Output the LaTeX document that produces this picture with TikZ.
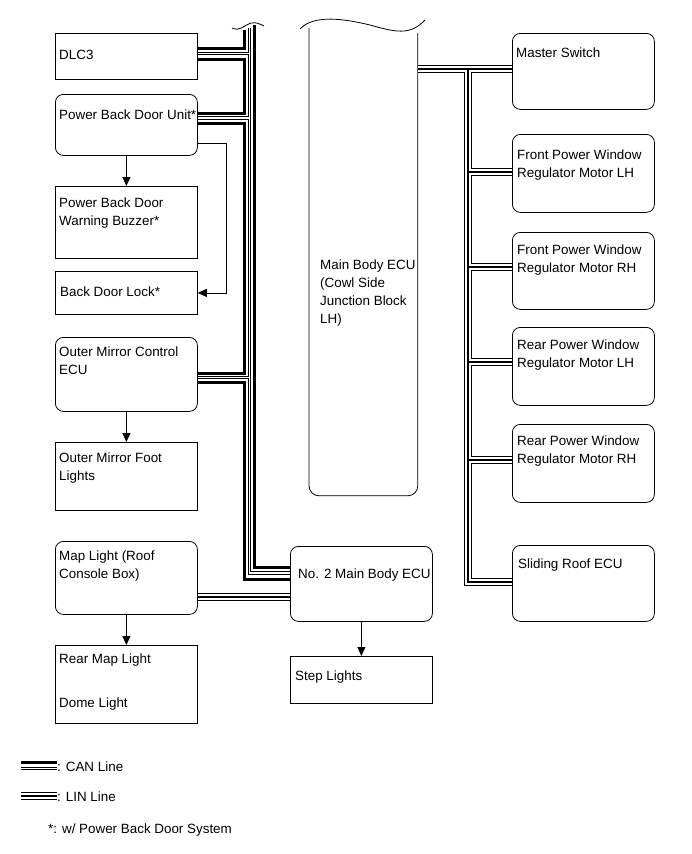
\documentclass[tikz,border=0pt]{standalone}
\usepackage{fontspec}
\setmainfont{Liberation Sans}
\usetikzlibrary{arrows.meta,positioning}

\tikzset{
  unit/.style={draw, line width=0.8pt, anchor=north west, minimum width=142pt, inner sep=0pt},
  ecu/.style={unit, rounded corners=8pt},
  txt/.style={anchor=north west, align=left, inner sep=0pt, font=\fontsize{13.4}{18}\selectfont},
  arrow/.style={-{Triangle[length=9pt,width=8pt]}, line width=0.8pt},
  canhi/.style={line width=3pt},
  canlo/.style={line width=0.8pt, double=white, double distance=1.6pt},
  lin/.style={line width=2.6pt, preaction={draw, line width=0.9pt, double=white, double distance=5.6pt}},
}

\begin{document}
\begin{tikzpicture}[x=1pt, y=-1pt]
\useasboundingbox (0,0) rectangle (691,854);

% left column
\node[unit, minimum height=46pt] (dlc) at (55,33) {};
\node[txt, below right=17pt and 4pt of dlc.north west] (dlcText) {DLC3};
\node[ecu, minimum height=61pt] (pbdu) at (55,94) {};
\node[txt, below right=16pt and 4pt of pbdu.north west] (pbduText) {Power Back Door Unit*};
\node[unit, minimum height=72pt] (buzzer) at (55,186) {};
\node[txt, below right=12pt and 4pt of buzzer.north west] (buzzerText) {Power Back Door\\Warning Buzzer*};
\node[unit, minimum height=43pt] (lock) at (55,271) {};
\node[txt, below right=16pt and 5pt of lock.north west] (lockText) {Back Door Lock*};
\node[ecu, minimum height=74pt] (omc) at (55,337) {};
\node[txt, below right=10pt and 4pt of omc.north west] (omcText) {Outer Mirror Control\\ECU};
\node[unit, minimum height=68pt] (foot) at (55,442) {};
\node[txt, below right=11pt and 4pt of foot.north west] (footText) {Outer Mirror Foot\\Lights};
\node[ecu, minimum height=73pt] (maplight) at (55,541) {};
\node[txt, below right=10pt and 4pt of maplight.north west] (maplightText) {Map Light (Roof\\Console Box)};
\node[unit, minimum height=78pt] (rearmap) at (55,645) {};
\node[txt, below right=9pt and 4pt of rearmap.north west] (rearmapText) {Rear Map Light\\[26pt]Dome Light};

% middle
\node[unit, draw=none, minimum width=108pt, minimum height=467pt] (mbecu) at (309,28) {};
\node[txt, below right=232pt and 11pt of mbecu.north west] (mbecuText) {Main Body ECU\\(Cowl Side\\Junction Block\\LH)};
\draw[line width=0.8pt, rounded corners=10pt] (mbecu.north west) -- (mbecu.south west) -- (mbecu.south east) -- ([yshift=-5pt]mbecu.north east);
\draw[line width=0.8pt] (300,29) .. controls (314,14) and (345,19) .. (370,25) .. controls (395,32) and (410,36) .. (425,20);
\node[ecu, minimum height=75pt] (no2) at (290,546) {};
\node[txt, below right=23pt and 8pt of no2.north west] (no2Text) {No. 2 Main Body ECU};
\node[unit, minimum height=47pt] (step) at (290,656) {};
\node[txt, below right=15pt and 5pt of step.north west] (stepText) {Step Lights};

% right column
\node[ecu, minimum height=76pt] (master) at (512,33) {};
\node[txt, below right=15pt and 4pt of master.north west] (masterText) {Master Switch};
\node[ecu, minimum height=78pt] (flh) at (512,134) {};
\node[txt, below right=16pt and 5pt of flh.north west] (flhText) {Front Power Window\\Regulator Motor LH};
\node[ecu, minimum height=77pt] (frh) at (512,232) {};
\node[txt, below right=13pt and 5pt of frh.north west] (frhText) {Front Power Window\\Regulator Motor RH};
\node[ecu, minimum height=78pt] (rlh) at (512,327) {};
\node[txt, below right=13pt and 5pt of rlh.north west] (rlhText) {Rear Power Window\\Regulator Motor LH};
\node[ecu, minimum height=78pt] (rrh) at (512,424) {};
\node[txt, below right=12pt and 5pt of rrh.north west] (rrhText) {Rear Power Window\\Regulator Motor RH};
\node[ecu, minimum height=76pt] (sroof) at (512,545) {};
\node[txt, below right=14pt and 6pt of sroof.north west] (sroofText) {Sliding Roof ECU};

% arrows
\coordinate (lockbend) at (226,143);
\draw[arrow] (pbdu) -- (buzzer);
\draw[arrow] (pbdu.east |- lockbend) -- (lockbend) |- (lock.east);
\draw[arrow] (omc) -- (foot);
\draw[arrow] (maplight) -- (rearmap);
\draw[arrow] (no2) -- (step);

% CAN bus
\coordinate (daisy) at (244.5,30);
\coordinate (canL) at (249.5,28);
\coordinate (canH) at (254,25);
\draw[line width=0.8pt] (232,28) .. controls (240,32) and (244,25) .. (251,23) .. controls (256,22) and (260,24) .. (264,26);
\draw[canlo] (canL) |- (no2.west |- 0,573)
  (dlc.east |- 0,53.5) -- (canL |- 0,53.5)
  (pbdu.east |- 0,118) -- (canL |- 0,118)
  (omc.east |- 0,377.5) -- (canL |- 0,377.5);
\draw[canhi] (canH) |- (no2.west |- 0,567)
  (daisy) |- (dlc.east |- 0,48)
  (dlc.east |- 0,59) -| (daisy |- 0,113) -- (pbdu.east |- 0,113)
  (pbdu.east |- 0,123) -| (daisy |- 0,373) -- (omc.east |- 0,373)
  (omc.east |- 0,382) -| (daisy |- 0,579) -- (no2.west |- 0,579);

% LIN bus
\coordinate (linTop) at (468,69);
\draw[lin] (mbecu.east |- linTop) -- (master.west |- linTop)
  (linTop) |- (sroof.west |- 0,582)
  (linTop |- 0,172) -- (flh.west |- 0,172)
  (linTop |- 0,267) -- (frh.west |- 0,267)
  (linTop |- 0,362) -- (rlh.west |- 0,362)
  (linTop |- 0,460) -- (rrh.west |- 0,460)
  (maplight.east |- 0,597) -- (no2.west |- 0,597);

% legend
\node[txt, anchor=west] (canKey) at (57,767) {: CAN Line};
\node[txt, anchor=west] (linKey) at (57,797) {: LIN Line};
\node[txt, anchor=west] (pbdKey) at (48,830) {*: w/ Power Back Door System};
\draw[canhi] ([xshift=-36pt,yshift=5pt]canKey.west) -- ([yshift=5pt]canKey.west);
\draw[canlo] ([xshift=-36pt,yshift=-1.5pt]canKey.west) -- ([yshift=-1.5pt]canKey.west);
\draw[lin] ([xshift=-36pt,yshift=1pt]linKey.west) -- ([yshift=1pt]linKey.west);
\end{tikzpicture}
\end{document}
